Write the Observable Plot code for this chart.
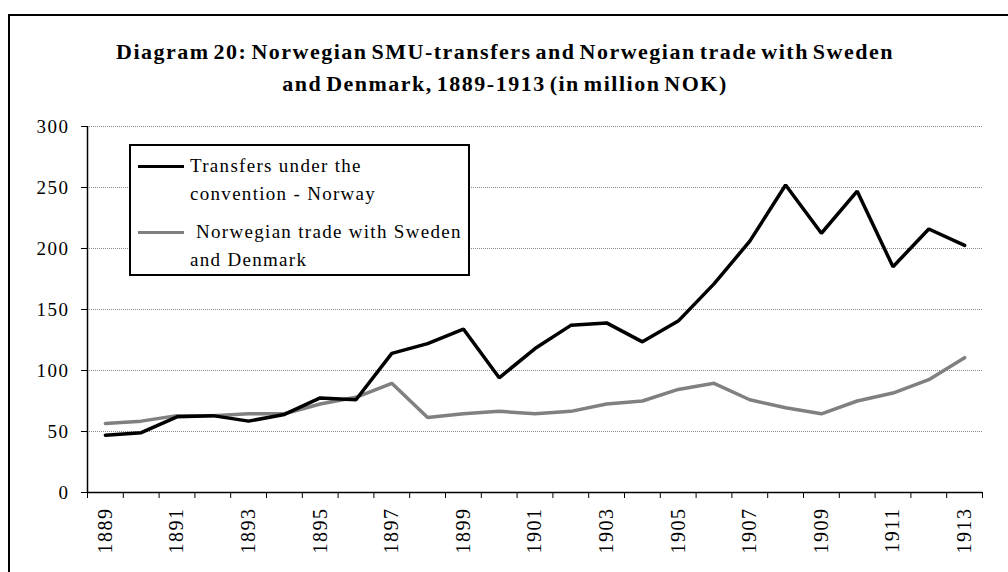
<!DOCTYPE html>
<html>
<head>
<meta charset="utf-8">
<script src="https://cdn.jsdelivr.net/npm/d3@7"></script>
<script src="https://cdn.jsdelivr.net/npm/@observablehq/plot@0.6"></script>
<style>
  html, body { margin: 0; padding: 0; background: #fff; overflow: hidden; }
  #wrap { position: relative; width: 1008px; height: 572px; font-family: "Liberation Serif", "Times New Roman", serif; }
  #frame { position: absolute; left: 8px; top: 14px; width: 1100px; height: 700px; border-left: 2px solid #000; border-top: 2px solid #000; }
  #title { position: absolute; left: 0; width: 1010px; top: 36px; text-align: center; font-weight: bold; font-size: 22px; line-height: 32px; letter-spacing: 1.5px; word-spacing: -3px; color: #000; }
  #chart { position: absolute; left: 0; top: 100px; }
  #legend { position: absolute; left: 129px; top: 144px; width: 337px; height: 128px; border: 2px solid #000; background: #fff; font-size: 19px; letter-spacing: 1.3px; }
  .swatch { position: absolute; left: 7px; width: 46px; height: 3px; }
  .lab { position: absolute; left: 59px; line-height: 28px; white-space: nowrap; }
</style>
</head>
<body>
<div id="wrap">
  <div id="frame"></div>
  <div id="title">Diagram 20: Norwegian SMU-transfers and Norwegian trade with Sweden<br>and Denmark, 1889-1913 (in million NOK)</div>
  <div id="chart"></div>
  <div id="legend"></div>
</div>
<script>
const years = [1889,1890,1891,1892,1893,1894,1895,1896,1897,1898,1899,1900,1901,1902,1903,1904,1905,1906,1907,1908,1909,1910,1911,1912,1913];
const transfers = [47,49,62,63,58.5,64,77.5,76,114,122,134,94,118,137,139,123.5,140.5,171,206,252,212.5,247,185,216,202.5];
const trade = [56.5,58.5,63,63,64.5,64.5,72.5,78,89.5,61.5,64.5,66.5,64.5,66.5,72.5,75,84.5,89.5,76,69.5,64.5,75,81.5,92.5,110.5];
const seriesNames = ["Transfers under the\nconvention - Norway", " Norwegian trade with Sweden\nand Denmark"];
const seriesColors = ["#000000", "#808080"];
const yTicks = [0,50,100,150,200,250,300];
const xLabelYears = [1889,1891,1893,1895,1897,1899,1901,1903,1905,1907,1909,1911,1913];

const rows = [];
years.forEach((y, i) => {
  rows.push({year: y, value: transfers[i], series: seriesNames[0]});
  rows.push({year: y, value: trade[i], series: seriesNames[1]});
});
const bounds = years.map(y => y - 0.5).concat([years[years.length - 1] + 0.5]);

const chart = Plot.plot({
  width: 1008,
  height: 472,
  marginTop: 26,
  marginBottom: 80,
  marginLeft: 87,
  marginRight: 26,
  style: { fontFamily: "Liberation Serif, Times New Roman, serif", fontSize: "19px", letterSpacing: "1.5px", color: "#000", background: "transparent" },
  x: { domain: [bounds[0], bounds[bounds.length - 1]], ticks: bounds, tickFormat: () => "", tickSize: 6, label: null },
  y: { domain: [0, 300], ticks: yTicks, tickSize: 6, tickPadding: 12, label: null },
  color: { domain: seriesNames, range: seriesColors },
  marks: [
    Plot.ruleY(yTicks.filter(d => d > 0), { stroke: "#8a8a8a", strokeWidth: 1, strokeDasharray: "1,1" }),
    Plot.ruleY([0], { stroke: "#000", strokeWidth: 1.5 }),
    Plot.ruleX([bounds[0]], { y1: 0, y2: 300, stroke: "#000", strokeWidth: 1.5 }),
    Plot.line(rows.filter(d => d.series === seriesNames[1]), { x: "year", y: "value", stroke: seriesColors[1], strokeWidth: 3.5, strokeLinejoin: "miter" }),
    Plot.line(rows.filter(d => d.series === seriesNames[0]), { x: "year", y: "value", stroke: seriesColors[0], strokeWidth: 3.5, strokeLinejoin: "miter" }),
    Plot.text(xLabelYears, { x: d => d, y: 0, text: d => String(d), rotate: -90, textAnchor: "end", dy: 15, fontSize: 20, letterSpacing: "2px", fill: "#000" })
  ]
});
document.getElementById("chart").appendChild(chart);

// legend
const legend = document.getElementById("legend");
const swatchTops = [19, 85];
const labelTops = [0, 66];
seriesNames.forEach((name, i) => {
  const sw = document.createElement("div");
  sw.className = "swatch";
  sw.style.top = swatchTops[i] + "px";
  sw.style.background = seriesColors[i];
  legend.appendChild(sw);
  const lab = document.createElement("div");
  lab.className = "lab";
  lab.style.top = (labelTops[i] + 6) + "px";
  lab.innerHTML = name.split("\n").map(s => s.replace(/^ /, "&nbsp;")).join("<br>");
  legend.appendChild(lab);
});
</script>
</body>
</html>
